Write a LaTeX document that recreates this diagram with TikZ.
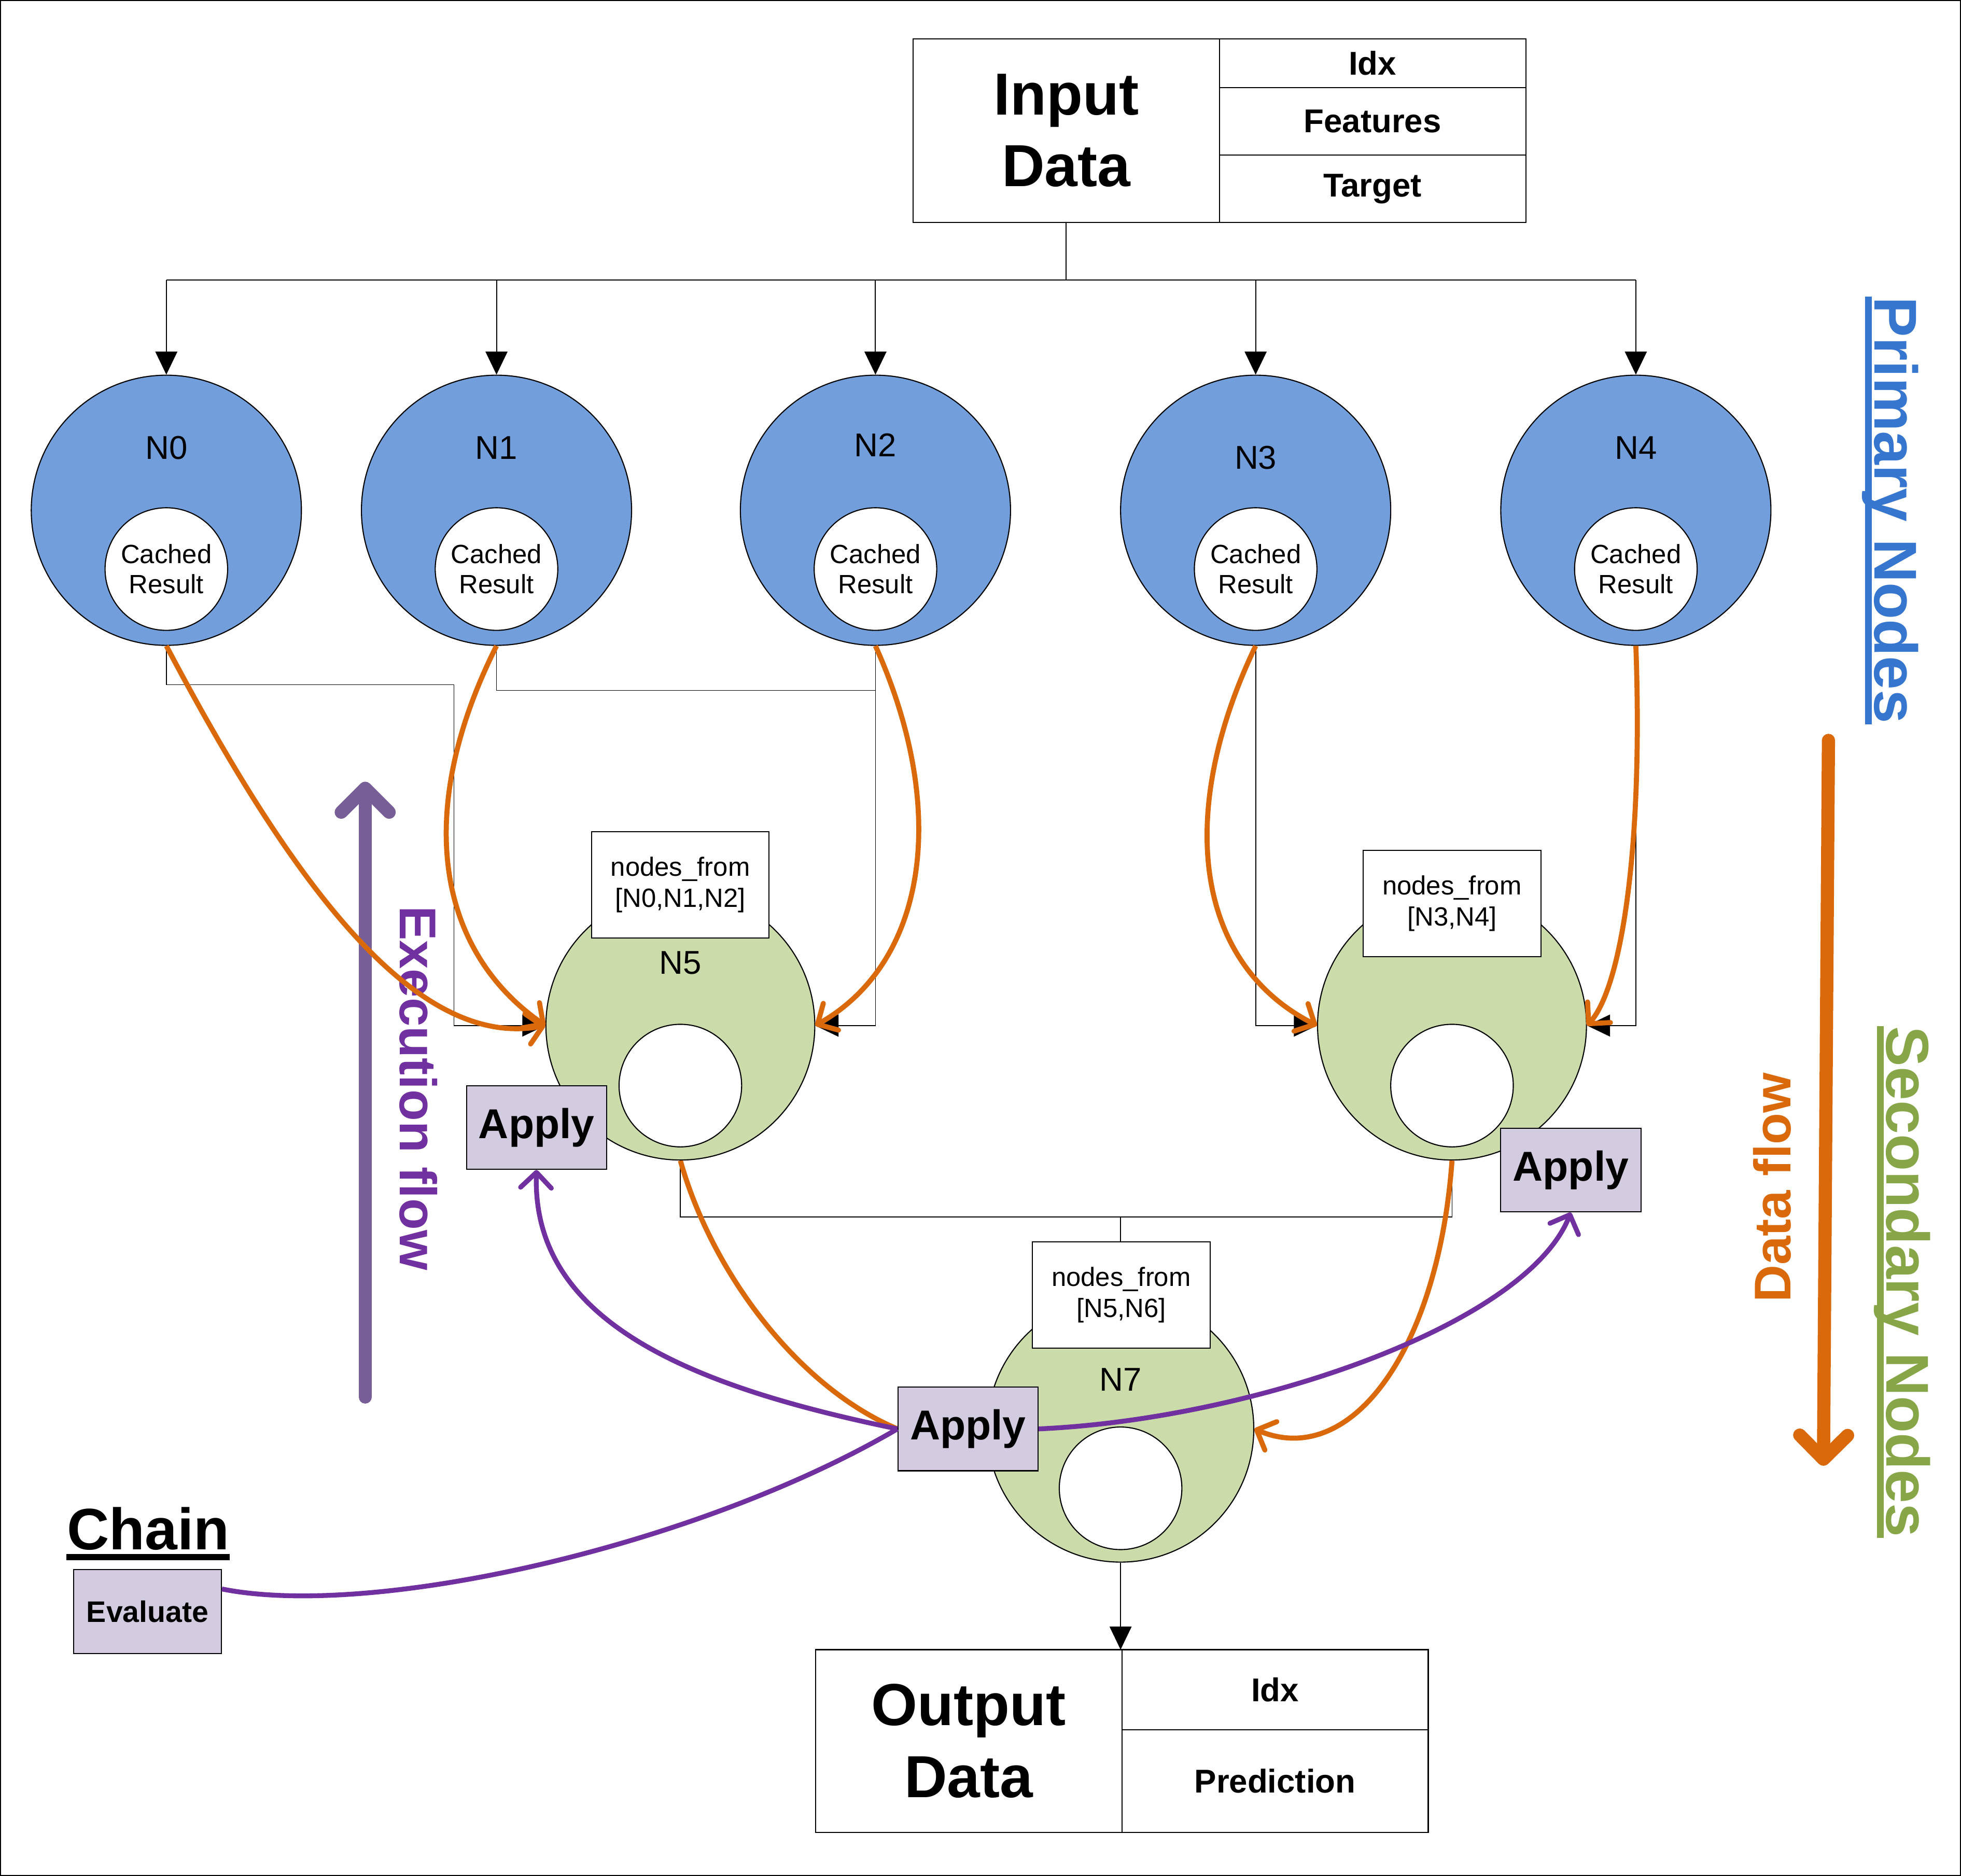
\documentclass[tikz,border=0pt]{standalone}
\usepackage{fontspec}
\setmainfont{Liberation Sans}
\usetikzlibrary{arrows.meta,backgrounds,calc}
\definecolor{primfill}{HTML}{729FDB}
\definecolor{secfill}{HTML}{CBDBAA}
\definecolor{applyfill}{HTML}{D3CBE0}
\definecolor{flowc}{HTML}{D9690B}
\definecolor{callc}{HTML}{7030A0}
\definecolor{execc}{HTML}{785E96}
\definecolor{primtext}{HTML}{3676CF}
\definecolor{sectext}{HTML}{86A648}
\tikzset{
  prim/.style={circle, draw, fill=primfill, minimum size=4.32cm, inner sep=0pt},
  sec/.style={circle, draw, fill=secfill, minimum size=4.3cm, inner sep=0pt},
  cache/.style={circle, draw, fill=white, minimum size=1.96cm, inner sep=0pt, align=center, font=\fontsize{12}{13.6}\selectfont},
  nlabel/.style={font=\fontsize{15}{18}\selectfont},
  frombox/.style={draw, fill=white, minimum width=2.84cm, minimum height=1.7cm, align=center, font=\fontsize{12}{14.2}\selectfont},
  applybox/.style={draw, fill=applyfill, minimum width=2.24cm, minimum height=1.34cm, inner sep=0pt, font=\bfseries\fontsize{19}{22}\selectfont},
  databox/.style={draw, minimum width=4.9cm, outer sep=0pt, align=center, font=\bfseries\fontsize{27}{32.6}\selectfont},
  datacell/.style={draw, minimum width=4.9cm, outer sep=0pt, inner sep=0pt, font=\bfseries\fontsize{15}{18}\selectfont},
  linkarrow/.style={-{Triangle[width=10pt,length=10.5pt]}},
  flowpath/.style={draw=flowc, line width=2.3pt},
  flowline/.style={flowpath, -{Straight Barb[length=7pt,width=14pt,round]}},
  callpath/.style={draw=callc, line width=2.2pt},
  callline/.style={callpath, -{Straight Barb[length=7pt,width=14pt,round]}},
  bigarrow/.style={line width=6pt, line cap=round, -{Straight Barb[length=10.9pt,width=21.8pt,round]}},
  sidetext/.style={anchor=base, inner sep=0pt, font=\bfseries\fontsize{23.5}{26}\selectfont},
  headtext/.style={rotate=-90, anchor=base, inner sep=0pt, font=\bfseries\fontsize{27.5}{30}\selectfont}
}
\begin{document}
\begin{tikzpicture}[x=0.2mm, y=-0.2mm, line width=0.5pt]
  \useasboundingbox (0,0) rectangle (1568,1500);
  \draw (0.5,0.5) rectangle (1567.5,1499.5);
%
  \node[databox, minimum height=2.94cm] (inp) at (852.5,104.5) {Input\\Data};
  \node[datacell, minimum height=0.78cm, anchor=north west] (idx) at (inp.north east) {Idx};
  \node[datacell, minimum height=1.08cm, anchor=north] (feat) at (idx.south) {Features};
  \node[datacell, minimum height=1.08cm, anchor=north] (targ) at (feat.south) {Target};
%
  \foreach \i/\x/\ly in {0/133/358, 1/397/358, 2/700/356, 3/1004/366, 4/1308/358} {
    \node[prim] (n\i) at (\x,408) {};
    \node[nlabel] (l\i) at (\x,\ly) {N\i};
    \node[cache] (c\i) at (\x,455) {Cached\\Result};
  }
  \coordinate (bus) at (852.5,224);
  \draw (inp.south) -- (bus);
  \draw (n0.north |- bus) -- (n4.north |- bus);
  \foreach \i in {0,...,4}
    \draw[linkarrow] (n\i.north |- bus) -- (n\i.north);
%
  \node[sec] (n5) at (544,820) {};
  \node[cache] (c5) at (544,868) {};
  \node[nlabel] (l5) at (544,770) {N5};
  \node[frombox] (f5) at (544,707.5) {nodes\_from\\{}[N0,N1,N2]};
  \node[sec] (n6) at (1161,820) {};
  \node[cache] (c6) at (1161,868) {};
  \node[frombox] (f6) at (1161,722.5) {nodes\_from\\{}[N3,N4]};
  \node[sec, minimum size=4.26cm] (n7) at (896,1142.5) {};
  \node[cache] (c7) at (896,1190) {};
  \node[nlabel] (l7) at (896,1103) {N7};
  \node[frombox] (f7) at (896.5,1035.5) {nodes\_from\\{}[N5,N6]};
%
  \node[databox, minimum height=2.92cm] (outp) at (774.5,1392) {Output\\Data};
  \node[datacell, minimum height=1.28cm, anchor=north west] (oidx) at (outp.north east) {Idx};
  \node[datacell, minimum height=1.64cm, anchor=north] (pred) at (oidx.south) {Prediction};
%
  \begin{scope}[on background layer]
    \draw[linkarrow] (n0.south) -- ++(0,31) -| (363,820) -- (n5.west);
    \draw[linkarrow] (n1.south) |- (700,552) |- (n5.east);
    \draw[linkarrow] (n2.south) |- (n5.east);
    \draw[linkarrow] (n3.south) |- (n6.west);
    \draw[linkarrow] (n4.south) |- (n6.east);
    \coordinate (j7) at (896,973);
    \draw (n5.south) |- (j7) -- (n7.north);
    \draw (n6.south) |- (j7);
    \draw[linkarrow] (n7.south) -- (n7.south |- oidx.north west);
  \end{scope}
%
  \coordinate (e0) at (292,1117);
  \coordinate (e1) at (292,625);
  \draw[bigarrow, execc] (e0) -- (e1);
  \node[sidetext, rotate=-90, text=callc] (exec) at (320,870) {Execution flow};
  \coordinate (d0) at (1462,592);
  \coordinate (d1) at (1458,1172);
  \draw[bigarrow, flowc] (d0) -- (d1);
  \node[sidetext, rotate=90, text=flowc] (data) at (1431.6,949.5) {Data flow};
  \node[headtext, text=primtext] (ptitle) at (1498.8,408) {Primary Nodes};
  \draw[primtext, line width=3pt] ([xshift=-2.8pt]ptitle.base west) -- ([xshift=-2.8pt]ptitle.base east);
  \node[headtext, text=sectext] (stitle) at (1508.4,1025) {Secondary Nodes};
  \draw[sectext, line width=3pt] ([xshift=-2.8pt]stitle.base west) -- ([xshift=-2.8pt]stitle.base east);
  \node[anchor=base, inner sep=0pt, font=\bfseries\fontsize{26.6}{30}\selectfont] (chain) at (118.5,1239) {Chain};
  \draw[line width=3pt] ([yshift=-3.4pt]chain.base west) -- ([yshift=-3.4pt]chain.base east);
%
  \draw[flowline] (n0.south) .. controls (230,700) and (330,840) .. (n5.west);
  \draw[flowline] (n1.south) .. controls (330,650) and (350,760) .. (n5.west);
  \draw[flowline] (n2.south) .. controls (760,650) and (740,770) .. (n5.east);
  \draw[flowline] (n3.south) .. controls (940,650) and (955,770) .. (n6.west);
  \draw[flowline] (n4.south) .. controls (1314,680) and (1296,790) .. (n6.east);
  \draw[flowline] (n6.south) .. controls (1150,1080) and (1080,1175) .. (n7.east);
%
  \node[applybox] (a5) at (429,901.5) {Apply};
  \node[applybox] (a6) at (1256,935.5) {Apply};
  \node[applybox] (a7) at (774,1142.5) {Apply};
  \node[applybox, minimum width=2.36cm, font=\bfseries\fontsize{13.5}{16}\selectfont] (ev) at (118,1288.5) {Evaluate};
  \begin{scope}[on background layer]
    \draw[flowpath] (n5.south) .. controls (570,1020) and (640,1110) .. (a7.west);
  \end{scope}
  \draw[callline] (a7.west) .. controls (560,1110) and (425,1060) .. (a5.south);
  \draw[callline] (a7.east) .. controls (1000,1135) and (1220,1060) .. (a6.south);
  \draw[callpath] ($(ev.east)+(0,-18)$) .. controls (300,1295) and (560,1235) .. (a7.west);
\end{tikzpicture}
\end{document}
